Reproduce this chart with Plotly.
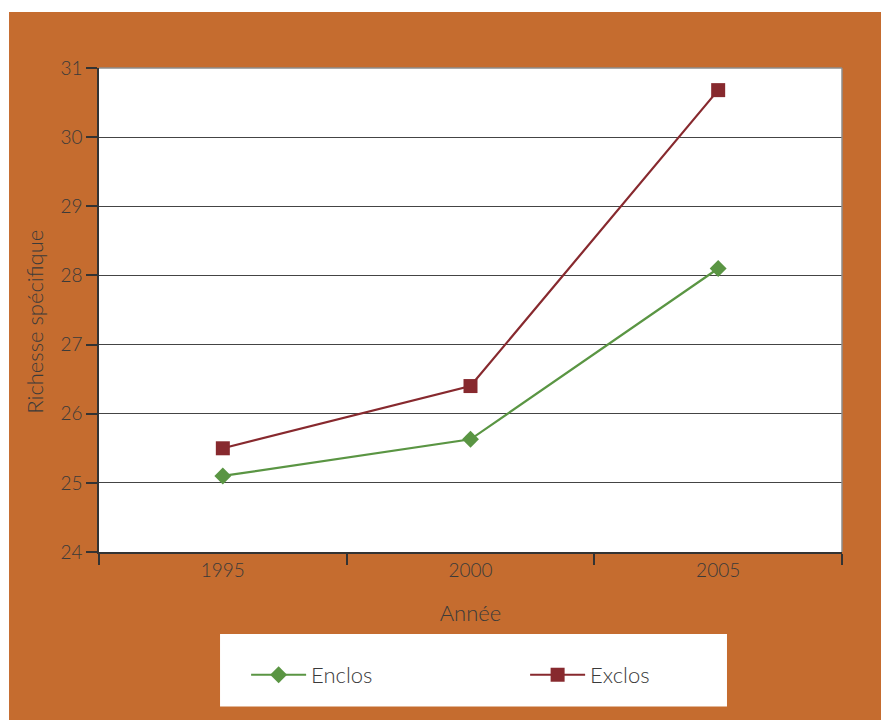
import plotly.graph_objects as go

years = ["1995", "2000", "2005"]
enclos = [25.10, 25.63, 28.10]
exclos = [25.50, 26.40, 30.68]
y_ticks = [24, 25, 26, 27, 28, 29, 30, 31]

ORANGE = "#C56C2F"
TXT = "#3a3a3a"
FONT = "Lato"

fig = go.Figure()
fig.add_trace(go.Scatter(
    x=years, y=enclos, name="Enclos", mode="lines+markers",
    line=dict(color="#5A9543", width=2.2),
    marker=dict(symbol="diamond", size=13, color="#5A9543"),
))
fig.add_trace(go.Scatter(
    x=years, y=exclos, name="Exclos", mode="lines+markers",
    line=dict(color="#87292E", width=2.2),
    marker=dict(symbol="square", size=14, color="#87292E"),
))

shapes = [
    # orange panel
    dict(type="rect", xref="paper", yref="paper", x0=-0.1211, x1=1.2, y0=-0.6, y1=1.1157,
         fillcolor=ORANGE, line=dict(width=0), layer="below"),
    # white plot area
    dict(type="rect", xref="paper", yref="paper", x0=0, x1=1, y0=0, y1=1,
         fillcolor="white", line=dict(width=0), layer="below"),
    # legend box
    dict(type="rect", xref="paper", yref="paper", x0=0.1629, x1=0.8452, y0=-0.319, y1=-0.1694,
         fillcolor="white", line=dict(width=0), layer="below"),
    # gray frame top/right
    dict(type="line", xref="paper", yref="paper", x0=0, x1=1, y0=1, y1=1,
         line=dict(color="#8c8c8c", width=1.5)),
    dict(type="line", xref="paper", yref="paper", x0=1, x1=1, y0=0, y1=1,
         line=dict(color="#8c8c8c", width=1.5)),
]

fig.update_layout(
    width=889, height=720,
    margin=dict(l=91, r=55, t=60, b=176),
    paper_bgcolor="white",
    plot_bgcolor="rgba(0,0,0,0)",
    font=dict(family=FONT, size=19, color=TXT, weight=300),
    shapes=shapes,
    showlegend=True,
    legend=dict(
        orientation="h", x=0.198, xanchor="left", y=-0.254, yanchor="middle",
        bgcolor="rgba(0,0,0,0)", font=dict(family=FONT, size=22, color=TXT, weight=300),
        entrywidth=209, entrywidthmode="pixels", itemwidth=55,
    ),
    annotations=[dict(
        text="Richesse spécifique", xref="paper", yref="paper", x=-0.088, y=0.475,
        xanchor="center", yanchor="middle", textangle=-90, showarrow=False,
        font=dict(family=FONT, size=22, color=TXT, weight=300),
    )],
    xaxis=dict(
        type="category", categoryorder="array", categoryarray=years,
        range=[-0.5, 2.5], tickson="boundaries", ticks="outside", ticklen=11,
        tickwidth=1.5, tickcolor="#333", showline=True, linecolor="#333", linewidth=1.5,
        showgrid=False, zeroline=False,
        tickfont=dict(family=FONT, size=19, color=TXT, weight=300),
        title=dict(text="Année", standoff=26, font=dict(family=FONT, size=22, color=TXT, weight=300)),
    ),
    yaxis=dict(
        range=[24, 31], tickvals=y_ticks, ticks="outside", ticklen=11, tickwidth=1.5,
        tickcolor="#333", showline=True, linecolor="#333", linewidth=1.5,
        showgrid=True, gridcolor="#444", gridwidth=1.3, zeroline=False,
        tickfont=dict(family=FONT, size=19, color=TXT, weight=300),
    ),
)

fig.write_html("out.html")
